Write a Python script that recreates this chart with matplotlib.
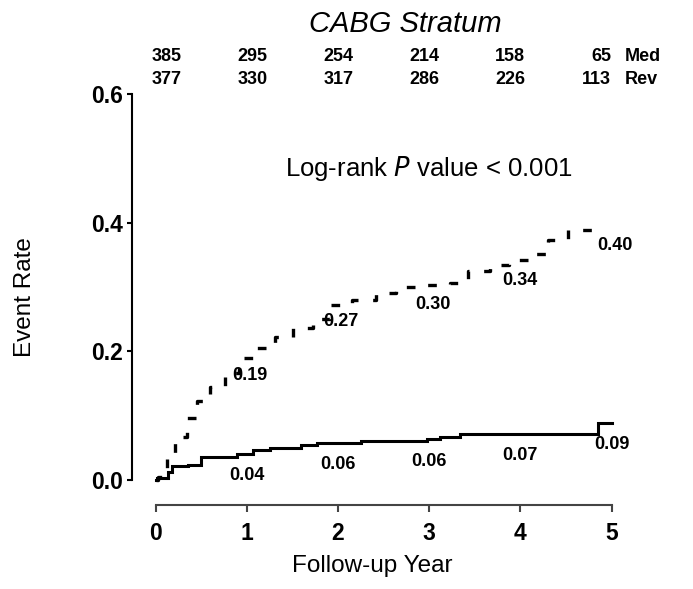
import numpy as np
import matplotlib
matplotlib.use("Agg")
from matplotlib import pyplot as plt

plt.rcParams['font.family'] = ['Liberation Sans', 'DejaVu Sans']

# cumulative event rate, CABG stratum (step curves)
rev_years = [0, 0.03, 0.12, 0.21, 0.34, 0.45, 0.60, 0.76, 0.91, 1.11, 1.31, 1.51, 1.73,
             1.91, 2.15, 2.42, 2.64, 2.93, 3.23, 3.43, 3.67, 3.88, 4.16, 4.30, 4.52,
             4.79, 4.85]
rev_rate = [0, 0.005, 0.036, 0.067, 0.096, 0.122, 0.145, 0.167, 0.189, 0.205, 0.223,
            0.236, 0.251, 0.272, 0.280, 0.290, 0.300, 0.303, 0.306, 0.325, 0.334,
            0.342, 0.352, 0.373, 0.389, 0.399, 0.399]

med_years = [0, 0.01, 0.14, 0.18, 0.35, 0.50, 0.89, 1.07, 1.25, 1.59, 1.77, 2.25,
             2.98, 3.12, 3.34, 4.85, 5.0]
med_rate = [0, 0.003, 0.013, 0.021, 0.023, 0.036, 0.041, 0.046, 0.049, 0.054, 0.058,
            0.061, 0.063, 0.067, 0.072, 0.089, 0.089]

label_years = [1, 2, 3, 4, 5]

# numbers at risk
at_risk_med = [385, 295, 254, 214, 158, 65]
at_risk_rev = [377, 330, 317, 286, 226, 113]


def rate_at(years, rate, t):
    idx = np.searchsorted(years, t, side='right') - 1
    return rate[idx]


fig = plt.figure(figsize=(6.93, 5.89), dpi=100)
ax = fig.add_axes([0.190, 0.1426, 0.699, 0.7194])

ax.plot(med_years, med_rate, drawstyle='steps-post', color='black', lw=2.2,
        solid_joinstyle='miter')
ax.plot(rev_years, rev_rate, drawstyle='steps-post', color='black', lw=2.4,
        linestyle=(0, (2.6, 4.4)))

# yearly values written beside each curve
rev_offsets = [(0.03, -0.027), (0.03, -0.026), (0.04, -0.03), (0.0, -0.032), (0.04, -0.034)]
for t, (dx, dy) in zip(label_years, rev_offsets):
    v = rate_at(rev_years, rev_rate, min(t, rev_years[-1]))
    ax.text(t + dx, v + dy, f"{v:.2f}", ha='center', va='center',
            fontsize=13, fontweight='bold')
for t in label_years:
    v = rate_at(med_years, med_rate, min(t, 4.999))
    ax.text(t, v - 0.034, f"{v:.2f}", ha='center', va='center',
            fontsize=13, fontweight='bold')

ax.text(3.0, 0.485, "Log-rank $\\it{P}$ value < 0.001", ha='center', va='center',
        fontsize=18.5)

# at-risk table above the plot
risk_x = [0.285 + 0.942 * k for k in range(6)]
for x, m, r in zip(risk_x, at_risk_med, at_risk_rev):
    ax.text(x, 0.658, str(m), ha='right', va='center', fontsize=13, fontweight='bold')
    ax.text(x, 0.622, str(r), ha='right', va='center', fontsize=13, fontweight='bold')
ax.text(5.15, 0.658, "Med", ha='left', va='center', fontsize=13, fontweight='bold')
ax.text(5.15, 0.622, "Rev", ha='left', va='center', fontsize=13, fontweight='bold')

ax.set_xlim(-0.263, 5.05)
ax.set_ylim(-0.039, 0.62)
ax.spines['top'].set_visible(False)
ax.spines['right'].set_visible(False)
ax.spines['left'].set_bounds(0, 0.6)
ax.spines['bottom'].set_bounds(0, 5)
for s in ('left', 'bottom'):
    ax.spines[s].set_linewidth(1.5)
ax.spines['bottom'].set_color('#444444')
ax.set_xticks([0, 1, 2, 3, 4, 5])
ax.set_yticks([0.0, 0.2, 0.4, 0.6])
ax.set_yticklabels(["0.0", "0.2", "0.4", "0.6"])
ax.tick_params(axis='y', length=3.5, width=1.5, pad=3, labelsize=16.5)
ax.tick_params(axis='x', length=5, width=1.5, pad=7, labelsize=16.5, color='#444444')
for lab in ax.get_xticklabels() + ax.get_yticklabels():
    lab.set_fontweight('bold')

fig.text(405 / 693, 1 - 24 / 589, "CABG Stratum", ha='center', va='center',
         fontsize=21, style='italic')
fig.text(372 / 693, 1 - 566 / 589, "Follow-up Year", ha='center', va='center', fontsize=17.5)
fig.text(25 / 693, 1 - 297 / 589, "Event Rate", ha='center', va='center', fontsize=17.5,
         rotation=90)

fig.savefig("out.png", dpi=100)
